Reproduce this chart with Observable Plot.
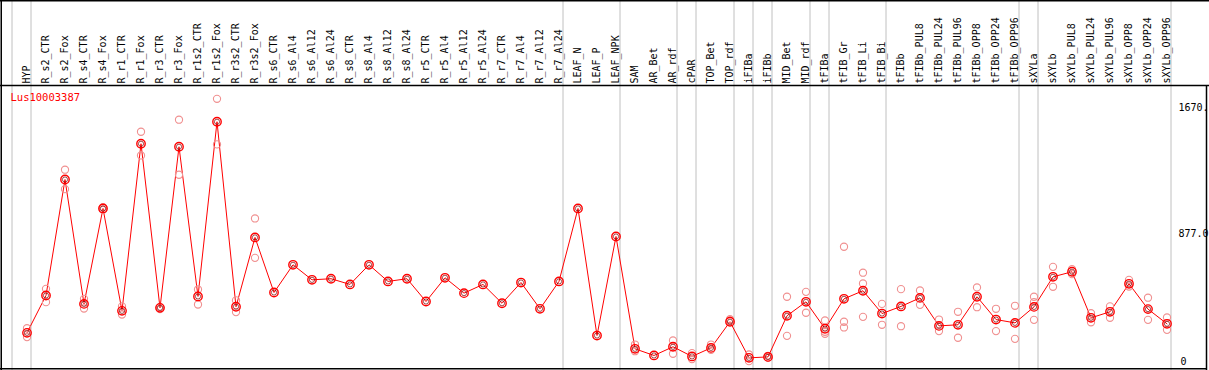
<!DOCTYPE html>
<html>
<head>
<meta charset="utf-8">
<script src="https://cdn.jsdelivr.net/npm/d3@7"></script>
<script src="https://cdn.jsdelivr.net/npm/@observablehq/plot@0.6"></script>
<style>
  html, body { margin: 0; padding: 0; background: #fff; }
  #chart svg { display: block; }
</style>
</head>
<body>
<div id="chart"></div>
<script>
const geneName = "Lus10003387";

const columns = [
  "HYP","R_s2_CTR","R_s2_Fox","R_s4_CTR","R_s4_Fox","R_r1_CTR","R_r1_Fox","R_r3_CTR","R_r3_Fox",
  "R_r1s2_CTR","R_r1s2_Fox","R_r3s2_CTR","R_r3s2_Fox","R_s6_CTR","R_s6_Al4","R_s6_Al12","R_s6_Al24",
  "R_s8_CTR","R_s8_Al4","R_s8_Al12","R_s8_Al24","R_r5_CTR","R_r5_Al4","R_r5_Al12","R_r5_Al24",
  "R_r7_CTR","R_r7_Al4","R_r7_Al12","R_r7_Al24","LEAF_N","LEAF_P","LEAF_NPK","SAM","AR_Bet","AR_rdf",
  "cPAR","TOP_Bet","TOP_rdf","iFIBa","iFIBb","MID_Bet","MID_rdf","tFIBa","tFIB_Gr","tFIB_Li","tFIB_Bi",
  "tFIBb","tFIBb_PUL8","tFIBb_PUL24","tFIBb_PUL96","tFIBb_OPP8","tFIBb_OPP24","tFIBb_OPP96",
  "sXYLa","sXYLb","sXYLb_PUL8","sXYLb_PUL24","sXYLb_PUL96","sXYLb_OPP8","sXYLb_OPP24","sXYLb_OPP96"
];

const means = [
  219, 455, 1188, 402, 1005, 358, 1414, 377, 1395,
  449, 1553, 384, 822, 474, 649, 554, 561,
  525, 649, 544, 561, 417, 567, 470, 525,
  406, 537, 371, 544, 1005, 202, 828, 118, 76, 131,
  70, 124, 289, 61, 67, 327, 415, 245, 434, 485, 341,
  386, 440, 263, 270, 447, 303, 282,
  383, 573, 605, 314, 352, 529, 369, 276
];

const replicates = [
  [248, 192], [497, 413], [1250, 1127], [434, 373], [1013, 997], [386, 335], [1490, 1340], [381, 369], [1566, 1218],
  [493, 398], [1698, 1410], [424, 350], [942, 693], [], [], [], [],
  [], [], [], [], [], [], [], [],
  [], [], [], [], [], [], [], [145, 103], [], [171, 87],
  [91, 53], [145, 112], [305, 297], [82, 40], [74, 61], [447, 200], [478, 346], [297, 226, 213], [763, 289, 253], [599, 531, 320], [402, 270],
  [495, 261], [487, 396], [303, 230], [352, 188], [506, 381], [371, 230], [390, 181],
  [447, 413, 301], [636, 510], [621, 590], [343, 286], [386, 314], [554, 512], [441, 301], [316, 238]
];

const groupEnds = [0, 1, 29, 32, 35, 36, 38, 39, 40, 42, 43, 46, 53, 54, 61];
const gridValues = [877];
const tickValues = [1670, 877, 0];
const tickLabels = ["1670.", "877.0", "0"];

const meanData = means.map((v, i) => ({i: i + 1, v}));
const repData = replicates.flatMap((arr, i) => arr.map(v => ({i: i + 1, v})));
const ticks = tickValues.map((v, k) => ({v, label: tickLabels[k]}));

const mono = "DejaVu Sans Mono, monospace";

const plot = Plot.plot({
  width: 1209,
  height: 370,
  margin: 0,
  x: {type: "linear", domain: [0, 61], range: [7.5, 1166.5], axis: null},
  y: {type: "linear", domain: [0, 1779], range: [367, 85.5], axis: null},
  style: {background: "#fff", overflow: "visible"},
  marks: [
    Plot.ruleX(groupEnds, {x: d => d + 4 / 19, stroke: "#c0c0c0", strokeWidth: 1}),
    Plot.ruleY(gridValues, {y: d => d, x1: 0, stroke: "#c0c0c0", strokeWidth: 1}),
    Plot.line(meanData, {x: "i", y: "v", stroke: "#ff0000", strokeWidth: 1}),
    Plot.dot(repData, {x: "i", y: "v", r: 3.6, stroke: "#f09090", strokeWidth: 1.1, fill: "none"}),
    Plot.dot(meanData, {x: "i", y: "v", r: 4.2, stroke: "#ff0000", strokeWidth: 1.4, fill: "none"}),
    Plot.dot(meanData, {x: "i", y: "v", r: 2.6, stroke: "#7a0000", strokeWidth: 0.7, fill: "none"}),
    Plot.text(columns, {
      x: (d, i) => i + 1, text: d => d, frameAnchor: "top", dy: 83, dx: -0.5,
      rotate: -90, textAnchor: "start", lineAnchor: "middle",
      fontFamily: mono, fontSize: 10, fill: "#000"
    }),
    Plot.text([geneName], {
      frameAnchor: "top-left", dx: 10, dy: 97.5, text: d => d, textAnchor: "start", lineAnchor: "middle",
      fontFamily: mono, fontSize: 10.5, fill: "#ff0000"
    }),
    Plot.text(ticks.filter(d => d.v > 0), {
      y: "v", text: "label", frameAnchor: "right", dx: -31, dy: 5, textAnchor: "start", lineAnchor: "middle",
      fontFamily: mono, fontSize: 10, fill: "#000"
    }),
    Plot.text(ticks.filter(d => d.v === 0), {
      y: "v", text: "label", frameAnchor: "right", dx: -29, dy: -5.5, textAnchor: "start", lineAnchor: "middle",
      fontFamily: mono, fontSize: 10, fill: "#000"
    })
  ]
});

document.getElementById("chart").appendChild(plot);

// frame borders
const svg = d3.select(plot);
const border = svg.append("g").attr("stroke", "#000").attr("stroke-width", 1.5).attr("fill", "none");
border.append("line").attr("x1", 0).attr("x2", 1209).attr("y1", 0.75).attr("y2", 0.75);
border.append("line").attr("x1", 0).attr("x2", 1209).attr("y1", 85.5).attr("y2", 85.5);
border.append("line").attr("x1", 0).attr("x2", 1207).attr("y1", 368.75).attr("y2", 368.75);
border.append("line").attr("x1", 1.25).attr("x2", 1.25).attr("y1", 0).attr("y2", 370);
border.append("line").attr("x1", 1206.5).attr("x2", 1206.5).attr("y1", 85).attr("y2", 370);
</script>
</body>
</html>
